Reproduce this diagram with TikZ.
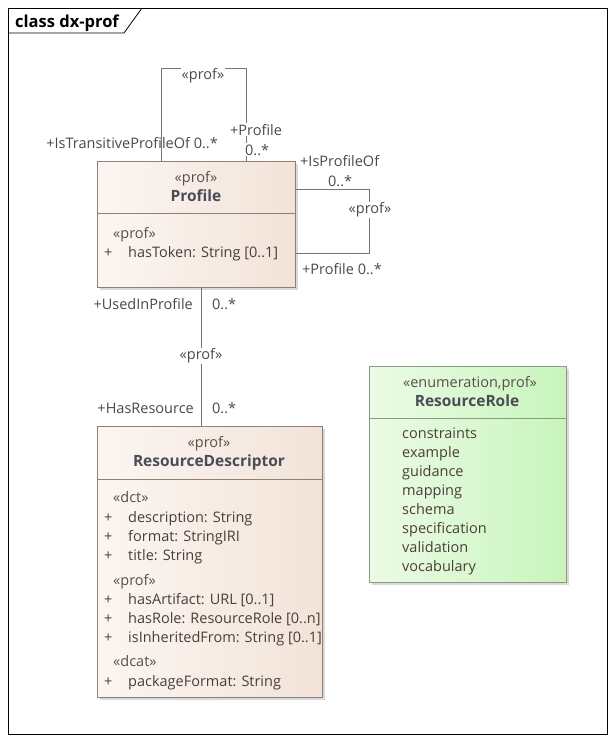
\documentclass[tikz,border=0pt]{standalone}
\usepackage{fontspec}
\setmainfont{Open Sans}
\begin{document}
\begin{tikzpicture}[x=1pt,y=-1pt,
  font=\fontsize{14.5}{17}\selectfont,
  frameline/.style={draw=black, line width=0.8pt},
  classbox/.style={draw=boxborder, line width=0.8pt, left color=profleft, right color=profright, anchor=north west, inner sep=0pt},
  enumbox/.style={draw=enumborder, line width=0.8pt, left color=enumleft, right color=enumright, anchor=north west, inner sep=0pt},
  shadowbox/.style={fill=black!15, draw=none},
  divider/.style={draw=boxborder, line width=0.8pt},
  assoc/.style={draw=linecol, line width=0.9pt},
  txt/.style={anchor=base west, inner sep=0pt, text=attrcol},
  stereo/.style={anchor=base, inner sep=0pt, text=stereocol},
  cname/.style={anchor=base, inner sep=0pt, text=namecol, font=\fontsize{15.5}{18}\selectfont\bfseries},
  lbl/.style={inner sep=0pt, text=lblcol},
  lblbg/.style={inner sep=1pt, fill=white, text=lblcol}
]
\definecolor{boxborder}{HTML}{8E7F78}
\definecolor{enumborder}{HTML}{8A9A88}
\definecolor{profleft}{HTML}{FBF6F2}
\definecolor{profright}{HTML}{F2E3D8}
\definecolor{enumleft}{HTML}{ECFBE6}
\definecolor{enumright}{HTML}{C8F5BC}
\definecolor{linecol}{HTML}{6F7384}
\definecolor{attrcol}{HTML}{4A3E3A}
\definecolor{stereocol}{HTML}{5A4E4A}
\definecolor{namecol}{HTML}{4A4C58}
\definecolor{lblcol}{HTML}{4A4A4A}

\useasboundingbox (0,0) rectangle (615,742);
\fill[white] (0,0) rectangle (615,742);

% frame
\draw[frameline] (8,8) rectangle (607,734);
\node[anchor=base west, inner sep=0pt, font=\fontsize{16.5}{19}\selectfont\bfseries] (title) at (15,27) {class dx-prof};
\draw[frameline] (8,33) -- (124,33) -- (142,8);

% shadows
\fill[shadowbox] (100,164) rectangle (298,290);
\fill[shadowbox] (100,429) rectangle (325,700);
\fill[shadowbox] (372,369) rectangle (569,585);

% Profile
\node[classbox, minimum width=198pt, minimum height=126pt] (profile) at (97,161) {};
\draw[divider] (97,213) -- (295,213);
\node[stereo] (ps) at (196,182) {«prof»};
\node[cname] (pn) at (196,201) {Profile};
\node[txt, text=stereocol] (pa0) at (113,238) {«prof»};
\node[txt] (pa1p) at (104,257) {+};
\node[txt] (pa1) at (128,257) {hasToken: String [0..1]};

% ResourceDescriptor
\node[classbox, minimum width=225pt, minimum height=271pt] (rd) at (97,426) {};
\draw[divider] (97,479) -- (322,479);
\node[stereo] (rds) at (209,447) {«prof»};
\node[cname] (rdn) at (209,466) {ResourceDescriptor};
\node[txt, text=stereocol] (rg1) at (113,502) {«dct»};
\node[txt] (r1p) at (104,522) {+};
\node[txt] (r1) at (128,522) {description: String};
\node[txt] (r2p) at (104,541) {+};
\node[txt] (r2) at (128,541) {format: StringIRI};
\node[txt] (r3p) at (104,560) {+};
\node[txt] (r3) at (128,560) {title: String};
\node[txt, text=stereocol] (rg2) at (113,585) {«prof»};
\node[txt] (r4p) at (104,604) {+};
\node[txt] (r4) at (128,604) {hasArtifact: URL [0..1]};
\node[txt] (r5p) at (104,623) {+};
\node[txt] (r5) at (128,623) {hasRole: ResourceRole [0..n]};
\node[txt] (r6p) at (104,642) {+};
\node[txt] (r6) at (128,642) {isInheritedFrom: String [0..1]};
\node[txt, text=stereocol] (rg3) at (113,666) {«dcat»};
\node[txt] (r7p) at (104,686) {+};
\node[txt] (r7) at (128,686) {packageFormat: String};

% ResourceRole
\node[enumbox, minimum width=197pt, minimum height=216pt] (rr) at (369,366) {};
\draw[divider, draw=enumborder] (369,418) -- (566,418);
\node[stereo] (rrs) at (470,387) {«enumeration,prof»};
\node[cname] (rrn) at (467,406) {ResourceRole};
\node[txt] (e1) at (402,438) {constraints};
\node[txt] (e2) at (402,457) {example};
\node[txt] (e3) at (402,476) {guidance};
\node[txt] (e4) at (402,495) {mapping};
\node[txt] (e5) at (402,514) {schema};
\node[txt] (e6) at (402,533) {specification};
\node[txt] (e7) at (402,552) {validation};
\node[txt] (e8) at (402,571) {vocabulary};

% top self association
\coordinate (ta) at ([xshift=64pt]profile.north west);
\coordinate (tb) at ([xshift=149pt]profile.north west);
\draw[assoc] (ta) -- ++(0,-93) -| (tb);
\node[lblbg] (tl) at (203,76) {«prof»};
\node[lbl, anchor=base east] (tl1) at (218,148) {+IsTransitiveProfileOf 0..*};
\node[lblbg, anchor=base west] (tl2) at (229,135) {+Profile};
\node[lblbg, anchor=base west] (tl3) at (244,155) {0..*};

% right self association
\coordinate (ra) at ([yshift=-28pt]profile.north east);
\coordinate (rb) at ([yshift=-92pt]profile.north east);
\draw[assoc] (ra) -- ++(74,0) |- (rb);
\node[lblbg] (rl) at (370,210) {«prof»};
\node[lbl, anchor=base west] (rl1) at (300,166) {+IsProfileOf};
\node[lbl, anchor=base west] (rl2) at (328,186) {0..*};
\node[lbl, anchor=base west] (rl3) at (302,274) {+Profile 0..*};

% vertical association
\draw[assoc] (profile.south -| 201,0) -- (rd.north -| 201,0);
\node[lblbg] (vl) at (201,356) {«prof»};
\node[lbl, anchor=base east] (vl1) at (193,309) {+UsedInProfile};
\node[lbl, anchor=base west] (vl2) at (212,309) {0..*};
\node[lbl, anchor=base east] (vl3) at (194,413) {+HasResource};
\node[lbl, anchor=base west] (vl4) at (212,413) {0..*};
\end{tikzpicture}
\end{document}
